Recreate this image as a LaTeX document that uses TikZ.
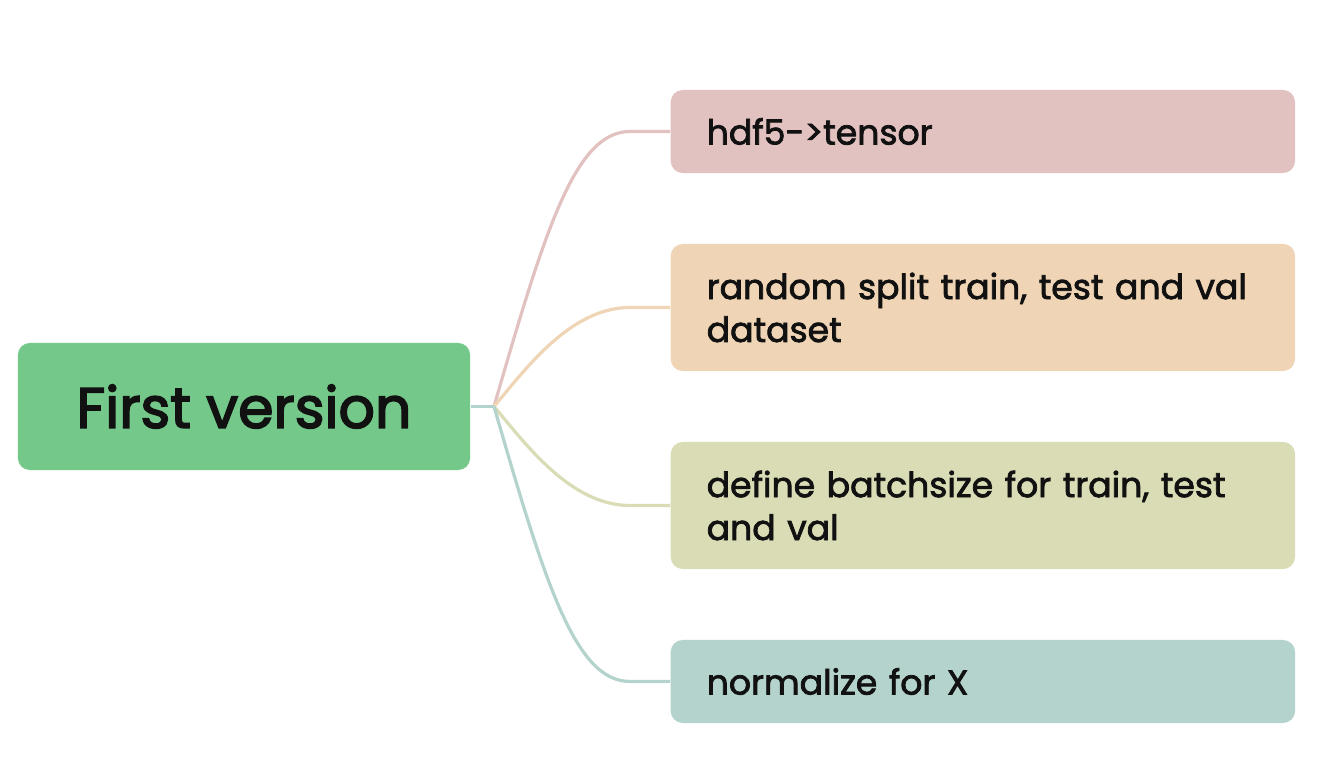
\documentclass[tikz,border=0pt]{standalone}
\usepackage{fontspec}
\setmainfont{Poppins}[FakeBold=2]
\newfontfamily\boxfont{Poppins}[FakeBold=2.2]
\newfontfamily\rootfont{Poppins}[FakeBold=2.8]
\definecolor{rootc}{HTML}{74C98A}
\definecolor{c1}{HTML}{E2C2C0}
\definecolor{c2}{HTML}{EFD5B5}
\definecolor{c3}{HTML}{DADCB5}
\definecolor{c4}{HTML}{B3D3CC}
\definecolor{txt}{HTML}{111111}
\begin{document}
\begin{tikzpicture}[x=0.01cm,y=-0.01cm,
  rootbox/.style={fill=rootc,rounded corners=0.12cm,minimum width=4.52cm,minimum height=1.27cm,inner sep=0pt,text=txt,font=\rootfont\fontsize{16.2pt}{18pt}\selectfont},
  leafbox/.style={rounded corners=0.12cm,anchor=west,text width=5.52cm,inner xsep=0.36cm,inner ysep=0pt,align=left,text=txt,font=\boxfont\fontsize{9.85pt}{12.2pt}\selectfont},
  link/.style={line width=0.032cm}]
\useasboundingbox (0,0) rectangle (1326,774);
\node[rootbox] (root) at (244,406.5) {First version};
\node[leafbox,fill=c1,minimum height=0.83cm] (l1) at (670,131.5) {hdf5->tensor};
\node[leafbox,fill=c2,minimum height=1.27cm] (l2) at (670,307.5) {random split train, test and val dataset};
\node[leafbox,fill=c3,minimum height=1.27cm] (l3) at (670,505.5) {define batchsize for train, test and val};
\node[leafbox,fill=c4,minimum height=0.83cm] (l4) at (670,681.5) {normalize for X};
\coordinate (j) at (494,406.5);
\draw[link,c1] (j) .. controls (545,230) and (575,131.5) .. (630,131.5) -- (l1.west);
\draw[link,c2] (j) .. controls (525,370) and (570,307.5) .. (630,307.5) -- (l2.west);
\draw[link,c3] (j) .. controls (525,443) and (570,505.5) .. (630,505.5) -- (l3.west);
\draw[link,c4] (j) .. controls (545,583) and (575,681.5) .. (630,681.5) -- (l4.west);
\draw[link,c4] (root.east) -- (j);
\end{tikzpicture}
\end{document}
